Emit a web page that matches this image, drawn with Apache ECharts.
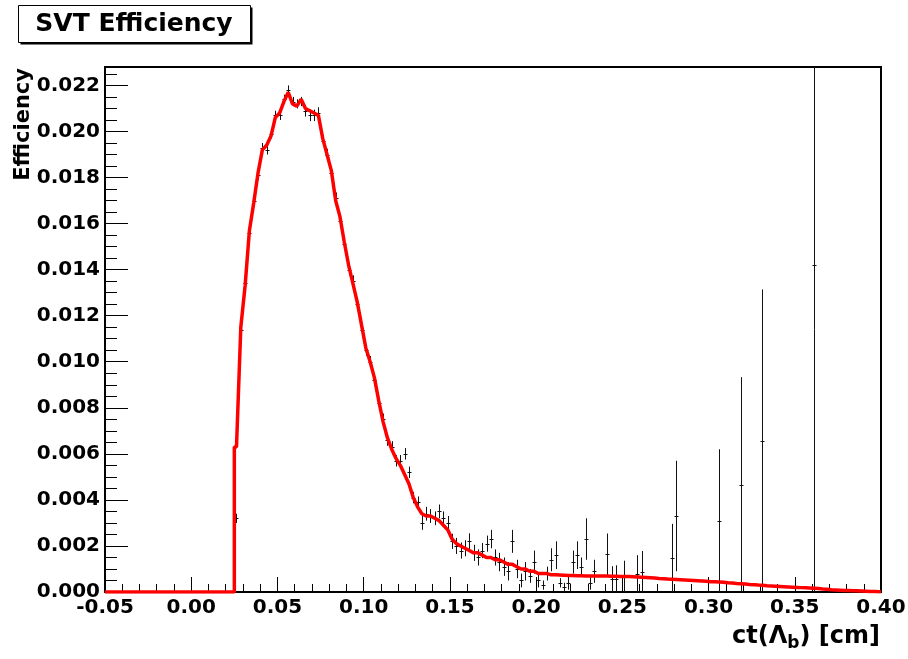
<!DOCTYPE html>
<html>
<head>
<meta charset="utf-8">
<title>SVT Efficiency</title>
<script src="https://cdn.jsdelivr.net/npm/echarts@6/dist/echarts.min.js"></script>
<style>
  html, body { margin: 0; padding: 0; background: #fff; }
  #chart { width: 908px; height: 659px; }
</style>
</head>
<body>
<div id="chart"></div>
<script>
// histogram binning: bins 0.0025 cm wide, first filled bin starts at ct = 0.025 cm
var binStart = 0.025;
var binWidth = 0.0025;
var xMin = -0.05, xMax = 0.40;
var yMin = 0, yMax = 0.0228;

// red reference histogram, one value per bin
var curveVals = [
  0.0063, 0.0115, 0.0133, 0.0157, 0.0169, 0.0182, 0.0192, 0.0194, 0.0198, 0.0206,
  0.0208, 0.0213, 0.0217, 0.0212, 0.0211, 0.0214, 0.0210, 0.0209, 0.0208, 0.0207,
  0.0197, 0.0190, 0.0183, 0.0170, 0.0163, 0.0152, 0.0142, 0.0134, 0.0126, 0.0116,
  0.0106, 0.0100, 0.0093, 0.0083, 0.0074, 0.0067, 0.0062, 0.0058, 0.0055, 0.0051,
  0.0047, 0.0041, 0.0037, 0.0034, 0.0033, 0.0033, 0.0032, 0.0031, 0.0029, 0.0027,
  0.0023, 0.0021, 0.0020, 0.0019, 0.0018, 0.0017, 0.0017, 0.0016, 0.0015, 0.0015,
  0.0014, 0.0014, 0.0013, 0.0012, 0.0012, 0.0011, 0.0010, 0.0010, 0.0009, 0.0009,
  0.0008, 0.0008, 0.0008, 0.00075, 0.00075, 0.00074, 0.00073, 0.00072, 0.00072, 0.00071,
  0.00071, 0.00070, 0.00070, 0.00070, 0.00069, 0.00069, 0.00069, 0.00068, 0.00068, 0.00067,
  0.00067, 0.00067, 0.00066, 0.00065, 0.00064, 0.00063, 0.00062, 0.00061, 0.00059, 0.00058,
  0.00056, 0.00055, 0.00054, 0.00053, 0.00052, 0.00051, 0.00050, 0.00049, 0.00048, 0.00047,
  0.00045, 0.00044, 0.00043, 0.00042, 0.00040, 0.00039, 0.00037, 0.00036, 0.00035, 0.00033,
  0.00032, 0.00030, 0.00029, 0.00027, 0.00026, 0.00025, 0.00024, 0.00023, 0.00022, 0.00021,
  0.00020, 0.00019, 0.00018, 0.00017, 0.00016, 0.00015, 0.00013, 0.00012, 0.00010, 0.00009,
  0.00008, 0.00007, 0.00006, 0.00005, 0.00005, 0.00004, 0.00003, 0.00002, 0.00002, 0.00001
];

// black measured points per bin (null = empty bin) and their errors
var dataVals = [
  0.0032, 0.0114, 0.0134, 0.0156, 0.0170, 0.0181, 0.0193, 0.0192, 0.0199, 0.0207,
  0.0207, 0.0214, 0.0218, 0.0213, 0.0212, 0.0213, 0.0209, 0.0207, 0.0207, 0.0208,
  0.0196, 0.0190, 0.0182, 0.0171, 0.0161, 0.0151, 0.0140, 0.0135, 0.0125, 0.0114,
  0.0105, 0.0100, 0.0092, 0.0082, 0.0075, 0.0066, 0.0063, 0.0057, 0.0057, 0.0060,
  0.0052, 0.0041, 0.0039, 0.0030, 0.0034, 0.0033, 0.0032, 0.0035, 0.0032, 0.0030,
  0.0022, 0.0020, 0.0018, 0.0019, 0.0022, 0.0017, 0.0015, 0.0018, 0.0021, 0.0023,
  0.0015, 0.0013, 0.0011, 0.0009, 0.0022, 0.0010, 0.0005, 0.0009, 0.0007, 0.0013,
  0.0005, 0.0003, 0.0008, 0.0014, 0.0016, 0.0004, 0.0002, 0.0004, 0.0013, 0.0016,
  0.0011, 0.0023, 0.0004, 0.0009, null, null, 0.00164, 0.00056, 0.00056, null,
  0.00066, null, null, 0.00078, 0.00088, null, null, null, null, null,
  null, 0.00146, 0.0033, null, null, null, null, null, null, null,
  null, null, 0.0031, null, null, null, null, 0.00463, null, null,
  null, null, 0.00654, null, null, null, null, null, null, null,
  null, null, null, null, 0.0142, null, null, null, null, null,
  null, null, null, null, null, null, null, null, null, null
];
var dataErrs = [
  0.0002, 0.0002, 0.0002, 0.0002, 0.0002, 0.0002, 0.0002, 0.0002, 0.0002, 0.0002,
  0.0002, 0.0002, 0.0002, 0.0002, 0.0002, 0.0002, 0.00025, 0.00025, 0.00025, 0.00025,
  0.00025, 0.00025, 0.00025, 0.00025, 0.00025, 0.00025, 0.00025, 0.00025, 0.00025, 0.00025,
  0.00025, 0.00025, 0.00025, 0.00025, 0.00025, 0.00025, 0.00025, 0.00025, 0.00025, 0.00025,
  0.00025, 0.00025, 0.00025, 0.0003, 0.0003, 0.0003, 0.0003, 0.0003, 0.0003, 0.0003,
  0.00033, 0.00035, 0.00035, 0.00035, 0.00035, 0.00035, 0.00035, 0.00033, 0.00035, 0.0004,
  0.00035, 0.0004, 0.0004, 0.0004, 0.0005, 0.0004, 0.0003, 0.0004, 0.0003, 0.0005,
  0.0003, 0.0002, 0.0003, 0.0005, 0.0006, 0.0002, 0.0002, 0.0003, 0.0005, 0.0006,
  0.0004, 0.0009, 0.0003, 0.0005, null, null, 0.0009, 0.00056, 0.0006, null,
  0.0007, null, null, 0.00082, 0.0009, null, null, null, null, null,
  null, 0.0015, 0.0024, null, null, null, null, null, null, null,
  null, null, 0.0031, null, null, null, null, 0.0047, null, null,
  null, null, 0.0066, null, null, null, null, null, null, null,
  null, null, null, null, 0.0142, null, null, null, null, null,
  null, null, null, null, null, null, null, null, null, null
];

var font = 'DejaVu Sans';

// red line: flat zero, sharp edge at binStart, then through the bin centres
var curveData = [[xMin, 0], [binStart, 0], [binStart, curveVals[0]]];
curveVals.forEach(function (v, k) {
  curveData.push([binStart + (k + 0.5) * binWidth, v]);
});
curveData.push([xMax, curveVals[curveVals.length - 1]]);

// error bar points at bin centres
var pointData = [];
dataVals.forEach(function (v, k) {
  if (v === null) return;
  pointData.push([binStart + (k + 0.5) * binWidth, v, dataErrs[k]]);
});

function renderErrorBar(params, api) {
  var x = api.value(0), v = api.value(1), e = api.value(2);
  var c = api.coord([x, v]);
  var lo = api.coord([x, Math.max(v - e, yMin)]);
  var hi = api.coord([x, Math.min(v + e, yMax)]);
  var px = Math.round(c[0]) + 0.5;
  var st = { stroke: '#111', lineWidth: 1 };
  return {
    type: 'group',
    children: [
      { type: 'line', shape: { x1: px, y1: lo[1], x2: px, y2: hi[1] }, style: st },
      { type: 'line', shape: { x1: px - 2, y1: Math.round(c[1]) + 0.5, x2: px + 2, y2: Math.round(c[1]) + 0.5 }, style: st }
    ]
  };
}

var chart = echarts.init(document.getElementById('chart'));
chart.setOption({
  animation: false,
  backgroundColor: '#fff',
  grid: {
    left: 105, right: 27, top: 67, bottom: 67,
    containLabel: false, outerBoundsMode: 'none',
    show: true, borderColor: '#000', borderWidth: 2, backgroundColor: 'transparent'
  },
  xAxis: {
    type: 'value', min: xMin, max: xMax, interval: 0.05, position: 'bottom',
    axisLine: { show: true, onZero: false, lineStyle: { color: '#000', width: 2 } },
    axisTick: { show: true, inside: true, length: 15, lineStyle: { color: '#000', width: 1 } },
    minorTick: { show: true, splitNumber: 5, length: 8, lineStyle: { color: '#000', width: 1 } },
    splitLine: { show: false },
    minorSplitLine: { show: false },
    axisLabel: {
      margin: 6, color: '#000', fontFamily: font, fontWeight: 'bold', fontSize: 20,
      showMinLabel: true, showMaxLabel: true,
      formatter: function (v) { return v.toFixed(2); }
    }
  },
  yAxis: {
    type: 'value', min: yMin, max: yMax, interval: 0.002, position: 'left',
    axisLine: { show: true, onZero: false, lineStyle: { color: '#000', width: 2 } },
    axisTick: { show: true, inside: true, length: 23, lineStyle: { color: '#000', width: 1 } },
    minorTick: { show: true, splitNumber: 4, length: 12, lineStyle: { color: '#000', width: 1 } },
    splitLine: { show: false },
    minorSplitLine: { show: false },
    axisLabel: {
      margin: 5, color: '#000', fontFamily: font, fontWeight: 'bold', fontSize: 20,
      showMinLabel: true, showMaxLabel: true,
      formatter: function (v) {
        var n = v / 0.002;
        return Math.abs(n - Math.round(n)) < 1e-6 ? v.toFixed(3) : '';
      }
    }
  },
  graphic: [
    { type: 'rect', shape: { x: 20.5, y: 7.5, width: 232, height: 37 }, style: { fill: '#000' } },
    { type: 'rect', shape: { x: 18.5, y: 5.5, width: 232, height: 37 }, style: { fill: '#fff', stroke: '#000', lineWidth: 1 } },
    {
      type: 'text', x: 134, y: 24,
      style: { text: 'SVT Efficiency', fill: '#000', fontFamily: font, fontWeight: 'bold', fontSize: 25, textAlign: 'center', textVerticalAlign: 'middle' }
    },
    {
      type: 'text', x: 24, y: 68, rotation: Math.PI / 2,
      style: { text: 'Efficiency', fill: '#000', fontFamily: font, fontWeight: 'bold', fontSize: 21, textAlign: 'right', textVerticalAlign: 'middle' }
    },
    {
      type: 'text', x: 880, y: 637,
      style: {
        text: '{a|ct(Λ}{s|b}{a|) [cm]}',
        textAlign: 'right', textVerticalAlign: 'middle',
        rich: {
          a: { fill: '#000', fontFamily: font, fontWeight: 'bold', fontSize: 24, lineHeight: 28 },
          s: { fill: '#000', fontFamily: font, fontWeight: 'bold', fontSize: 17, lineHeight: 20, padding: [14, 0, 0, 0] }
        }
      }
    }
  ],
  series: [{
    type: 'custom',
    name: 'data',
    renderItem: renderErrorBar,
    encode: { x: 0, y: 1 },
    data: pointData,
    z: 2
  }, {
    type: 'line',
    name: 'curve',
    data: curveData,
    showSymbol: false,
    symbol: 'none',
    lineStyle: { color: '#ff0000', width: 3.5 },
    z: 3
  }]
});
</script>
</body>
</html>
